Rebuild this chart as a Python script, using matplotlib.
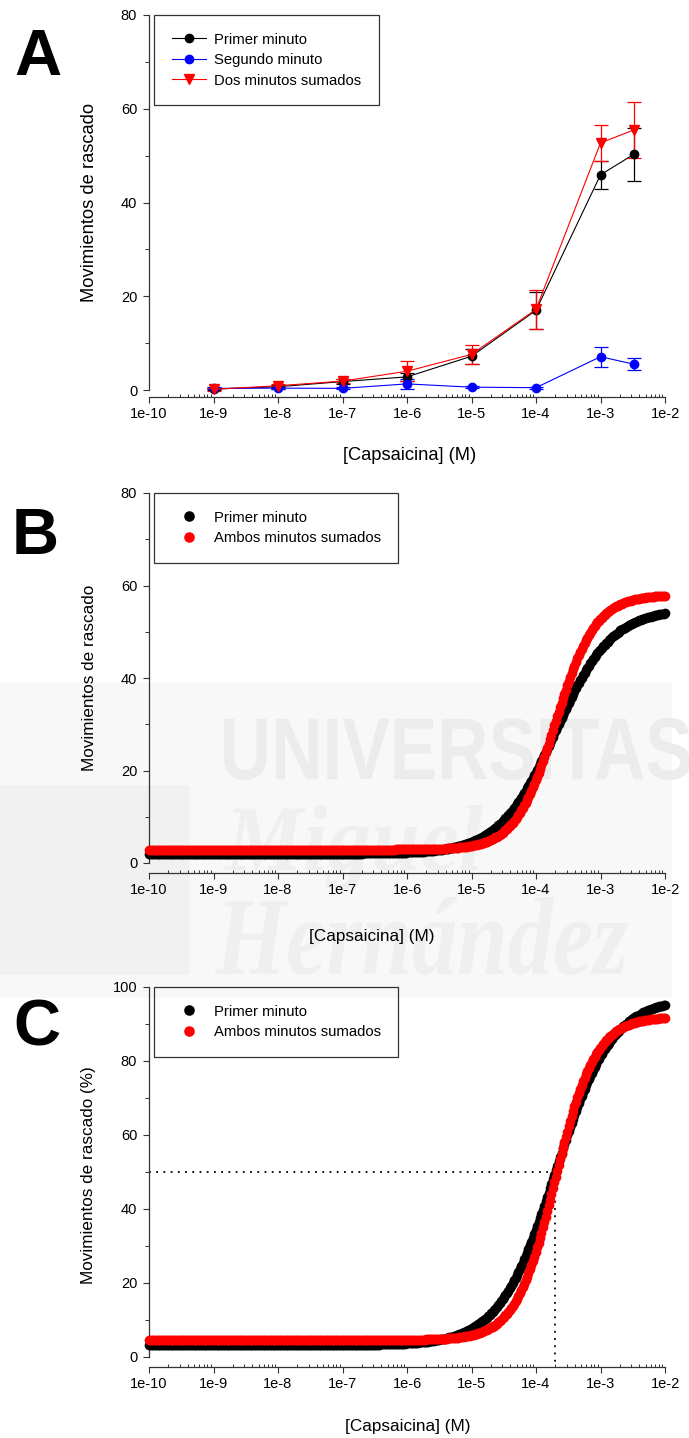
import numpy as np
import matplotlib
matplotlib.use("Agg")
import matplotlib.pyplot as plt
from matplotlib.lines import Line2D
from matplotlib.ticker import FixedLocator, FixedFormatter, LogLocator, NullFormatter, MultipleLocator
from matplotlib.textpath import TextPath
from matplotlib.patches import PathPatch, Rectangle
from matplotlib.font_manager import FontProperties
from matplotlib.transforms import Affine2D, IdentityTransform

plt.rcParams["font.family"] = ["Liberation Sans", "DejaVu Sans"]

W, H, DPI = 689, 1438, 100

# ---------------- data ----------------
xtick_values = [1e-10, 1e-9, 1e-8, 1e-7, 1e-6, 1e-5, 1e-4, 1e-3, 1e-2]
xtick_labels = ["1e-10", "1e-9", "1e-8", "1e-7", "1e-6", "1e-5", "1e-4", "1e-3", "1e-2"]

# Panel A: mean +/- SEM of scratching bouts per dose
conc_a = [1e-9, 1e-8, 1e-7, 1e-6, 1e-5, 1e-4, 1e-3, 3.3e-3]
first_min = [0.2, 0.7, 1.8, 2.8, 7.2, 17.0, 45.9, 50.3]
first_min_err = [0.3, 0.4, 0.5, 0.8, 1.6, 4.0, 3.0, 5.7]
second_min = [0.35, 0.4, 0.35, 1.3, 0.6, 0.5, 7.1, 5.5]
second_min_err = [0.2, 0.2, 0.2, 1.1, 0.2, 0.2, 2.1, 1.3]
both_min = [0.15, 0.9, 1.9, 4.0, 7.6, 17.2, 52.7, 55.5]
both_min_err = [0.3, 0.4, 0.5, 2.1, 2.1, 4.1, 3.9, 6.0]

# Panels B and C: four-parameter logistic fits [bottom, top, log EC50, Hill slope]
fit_b_first = [2.0, 55.0, -3.7, 1.0]
fit_b_both = [2.9, 58.0, -3.7, 1.4]
fit_c_first = [3.2, 97.0, -3.7, 1.0]
fit_c_both = [4.6, 92.0, -3.7, 1.4]
fit_log_range = [-10.0, -2.0]
fit_n_points = 360
ec50_c = 2e-4
half_response = 50.0


def logistic(params, logx):
    bottom, top, logec50, hill = params
    return bottom + (top - bottom) / (1.0 + 10.0 ** ((logec50 - logx) * hill))


fig = plt.figure(figsize=(W / DPI, H / DPI), dpi=DPI)


def px_ax(top_px, bottom_px, left_px=149, right_px=665):
    return fig.add_axes([left_px / W, 1 - bottom_px / H,
                         (right_px - left_px) / W, (bottom_px - top_px) / H])


# ---------------- faint background watermark ----------------
def px_rect(x0, y0, x1, y1, color):
    fig.add_artist(Rectangle((x0, H - y1), x1 - x0, y1 - y0, transform=IdentityTransform(),
                             facecolor=color, edgecolor="none", zorder=-5))


def px_word(text, fp, x0, y0, x1, y1, color):
    tp = TextPath((0, 0), text, size=100, prop=fp)
    ext = tp.get_extents()
    sx = (x1 - x0) / ext.width
    sy = (y1 - y0) / ext.height
    tr = Affine2D().translate(-ext.x0, -ext.y0).scale(sx, sy).translate(x0, H - y1)
    fig.add_artist(PathPatch(tr.transform_path(tp), transform=IdentityTransform(),
                             facecolor=color, edgecolor="none", zorder=-4))


px_rect(0, 683, 672, 998, "#f8f8f8")
px_rect(0, 785, 190, 975, "#f1f1f1")
px_word("UNIVERSITAS", FontProperties(family="Liberation Sans", weight="bold"),
        224, 718, 690, 780, "#ececec")
px_rect(672, 683, 689, 998, "white")
px_word("Miguel", FontProperties(family="Liberation Serif", style="italic", weight="bold"),
        224, 805, 483, 890, "#efefef")
px_word("Hernández", FontProperties(family="Liberation Serif", style="italic", weight="bold"),
        215, 897, 628, 975, "#efefef")

TICK_FS = 10.5
LEG_FS = 10.7
SPINE_C = "#333333"


def style_axes(ax, ymax, ystep, yminor, bottom_offset_px):
    ax.set_facecolor("none")
    ax.set_xscale("log")
    ax.set_xlim(1e-10, 1e-2)
    ax.set_ylim(0, ymax)
    for s in ("top", "right"):
        ax.spines[s].set_visible(False)
    for s in ("left", "bottom"):
        ax.spines[s].set_color(SPINE_C)
        ax.spines[s].set_linewidth(0.9)
    ax.spines["bottom"].set_position(("outward", bottom_offset_px * 72 / DPI))
    ax.xaxis.set_major_locator(FixedLocator(xtick_values))
    ax.xaxis.set_major_formatter(FixedFormatter(xtick_labels))
    ax.xaxis.set_minor_locator(LogLocator(base=10, subs=np.arange(2, 10), numticks=20))
    ax.xaxis.set_minor_formatter(NullFormatter())
    ax.yaxis.set_major_locator(MultipleLocator(ystep))
    ax.yaxis.set_minor_locator(MultipleLocator(yminor))
    ax.tick_params(axis="x", which="major", direction="out", length=4.0, width=0.8,
                   color=SPINE_C, labelsize=TICK_FS, pad=3)
    ax.tick_params(axis="x", which="minor", direction="in", length=2.4, width=0.7, color=SPINE_C)
    ax.tick_params(axis="y", which="major", direction="out", length=4.0, width=0.8,
                   color=SPINE_C, labelsize=TICK_FS, pad=4.5)
    ax.tick_params(axis="y", which="minor", direction="out", length=2.7, width=0.7, color=SPINE_C)


def add_legend(ax, handles, labels, ax_w_px=516):
    leg = ax.legend(handles, labels, loc="upper left", bbox_to_anchor=(5 / ax_w_px, 1.0),
                    borderaxespad=0, frameon=True, fancybox=False, fontsize=LEG_FS,
                    handlelength=2.3, handletextpad=0.55, borderpad=1.18, labelspacing=0.44)
    fr = leg.get_frame()
    fr.set_edgecolor("black")
    fr.set_linewidth(0.9)
    fr.set_facecolor("none")
    return leg


# ---------------- Panel A ----------------
axA = px_ax(15, 390)
style_axes(axA, 80, 20, 10, 7)
series_a = [
    ("Primer minuto", first_min, first_min_err, "black", "o", 6.0),
    ("Segundo minuto", second_min, second_min_err, "#0000ff", "o", 6.0),
    ("Dos minutos sumados", both_min, both_min_err, "#ff0000", "v", 7.0),
]
handles_a = []
for label, y, e, c, m, ms in series_a:
    eb = axA.errorbar(conc_a, y, yerr=e, color=c, marker=m, markersize=ms, lw=0.8,
                      elinewidth=0.9, capsize=5, capthick=0.9, clip_on=False, zorder=3)
    for art in eb.lines[1] + eb.lines[2]:
        art.set_clip_on(False)
    handles_a.append(Line2D([], [], color=c, marker=m, markersize=ms, lw=0.8))
add_legend(axA, handles_a, [s[0] for s in series_a])

# ---------------- Panels B and C ----------------
logx = np.linspace(fit_log_range[0], fit_log_range[1], fit_n_points)
xs = 10.0 ** logx
DOT = 7.0

axB = px_ax(493, 863)
style_axes(axB, 80, 20, 10, 10)
axB.plot(xs, logistic(fit_b_first, logx), "o", color="black", markersize=DOT,
         markeredgewidth=0, clip_on=False, zorder=3)
axB.plot(xs, logistic(fit_b_both, logx), "o", color="#ff0000", markersize=DOT,
         markeredgewidth=0, clip_on=False, zorder=4)
handles_bc = [Line2D([], [], color="black", marker="o", markersize=6.6, lw=0),
              Line2D([], [], color="#ff0000", marker="o", markersize=6.6, lw=0)]
labels_bc = ["Primer minuto", "Ambos minutos sumados"]
add_legend(axB, handles_bc, labels_bc)

axC = px_ax(987, 1357)
style_axes(axC, 100, 20, 10, 10)
axC.plot(xs, logistic(fit_c_first, logx), "o", color="black", markersize=DOT,
         markeredgewidth=0, clip_on=False, zorder=3)
axC.plot(xs, logistic(fit_c_both, logx), "o", color="#ff0000", markersize=DOT,
         markeredgewidth=0, clip_on=False, zorder=4)
dot = (0, (1, 3))
y_axis_line = -10 / (370 / 100)
axC.plot([1e-10, ec50_c], [half_response, half_response], color="black", lw=1.3,
         linestyle=dot, zorder=2)
axC.plot([ec50_c, ec50_c], [half_response, y_axis_line], color="black", lw=1.3,
         linestyle=dot, zorder=2, clip_on=False)
add_legend(axC, handles_bc, labels_bc)

# ---------------- axis titles and panel letters ----------------
def ftext(xp, yp, s, **kw):
    fig.text(xp / W, 1 - yp / H, s, **kw)


ftext(89, 202.5, "Movimientos de rascado", rotation=90, ha="center", va="center", fontsize=13.2)
ftext(89, 678, "Movimientos de rascado", rotation=90, ha="center", va="center", fontsize=12.3)
ftext(89, 1175, "Movimientos de rascado (%)", rotation=90, ha="center", va="center", fontsize=12.3)
ftext(410, 456, "[Capsaicina] (M)", ha="center", va="center", fontsize=13.2)
ftext(372, 937, "[Capsaicina] (M)", ha="center", va="center", fontsize=12.3)
ftext(408, 1426, "[Capsaicina] (M)", ha="center", va="center", fontsize=12.3)

ftext(14, 75, "A", ha="left", va="baseline", fontsize=47, fontweight="bold")
ftext(12, 554, "B", ha="left", va="baseline", fontsize=47, fontweight="bold")
ftext(13, 1046, "C", ha="left", va="baseline", fontsize=47, fontweight="bold")

fig.savefig("out.png", dpi=DPI, facecolor="white")
